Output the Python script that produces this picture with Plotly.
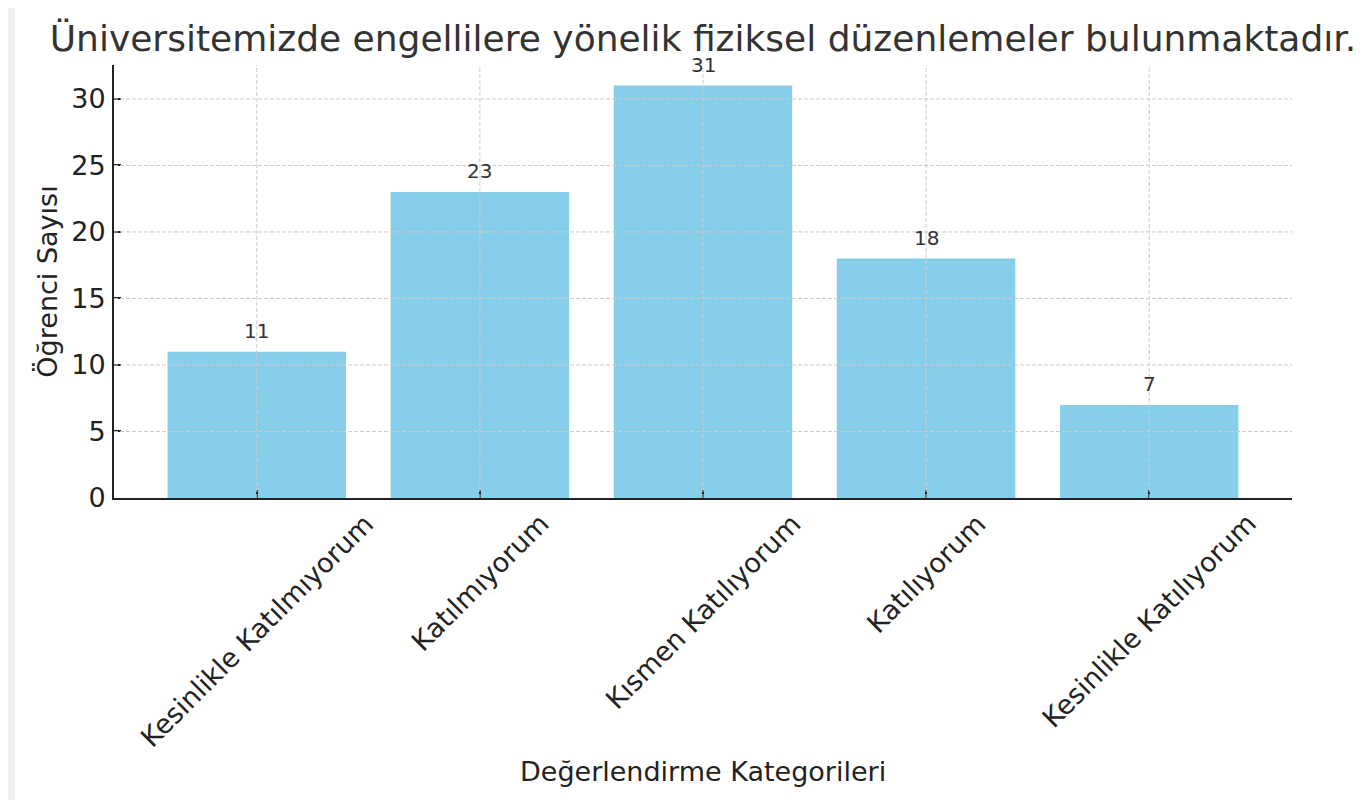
import plotly.graph_objects as go

categories = ["Kesinlikle Katılmıyorum", "Katılmıyorum", "Kısmen Katılıyorum",
              "Katılıyorum", "Kesinlikle Katılıyorum"]
counts = [11, 23, 31, 18, 7]
y_ticks = [0, 5, 10, 15, 20, 25, 30]

title_text = "Üniversitemizde engellilere yönelik fiziksel düzenlemeler bulunmaktadır."
x_title = "Değerlendirme Kategorileri"
y_title = "Öğrenci Sayısı"

FONT = "DejaVu Sans"
OFF = 8  # page body margin
W, H = 1366 - OFF, 800 - OFF
L, R, T, B = 114 - OFF, 74, 65 - OFF, 302
plot_w = W - L - R
plot_h = H - T - B

xs = list(range(len(categories)))
ymax = max(counts) * 1.05

fig = go.Figure()
fig.add_trace(go.Bar(x=xs, y=counts, width=0.8, marker=dict(color="#87CEEB", line=dict(width=0)),
                     hoverinfo="skip"))

shapes = []
# white figure area (a thin strip of grey page shows at the left)
shapes.append(dict(type="rect", xref="paper", yref="paper", layer="below",
                   x0=(15 - OFF - L) / plot_w, x1=(W - L) / plot_w,
                   y0=(T + plot_h - H) / plot_h, y1=(T + plot_h) / plot_h,
                   fillcolor="white", line=dict(width=0)))
grid_line = dict(color="#cccccc", width=1, dash="4px,2px")
for xv in xs:
    shapes.append(dict(type="line", xref="x", yref="paper", x0=xv, x1=xv, y0=0, y1=1,
                       line=grid_line, layer="above"))
for yv in y_ticks[1:]:
    shapes.append(dict(type="line", xref="paper", yref="y", x0=0, x1=1, y0=yv, y1=yv,
                       line=grid_line, layer="above"))

annotations = []
for xv, v in zip(xs, counts):
    annotations.append(dict(x=xv, y=v, xref="x", yref="y", text=str(v), showarrow=False,
                            yanchor="bottom", xanchor="center", yshift=7,
                            font=dict(family=FONT, size=20, color="#333333")))
for xv, c in zip(xs, categories):
    annotations.append(dict(x=xv, y=0, xref="x", yref="y", text=c, showarrow=False,
                            textangle=-45, xanchor="center", yanchor="top", yshift=-7,
                            font=dict(family=FONT, size=27, color="#222222")))
annotations.append(dict(x=0.5, y=(T + plot_h - (771 - OFF)) / plot_h, xref="paper", yref="paper",
                        text=x_title, showarrow=False, xanchor="center", yanchor="middle",
                        font=dict(family=FONT, size=27, color="#222222")))

fig.update_layout(
    width=W, height=H, autosize=False,
    margin=dict(l=L, r=R, t=T, b=B),
    paper_bgcolor="#f0f0f0", plot_bgcolor="rgba(0,0,0,0)",
    showlegend=False,
    title=dict(text=title_text, x=0.5, xref="paper", xanchor="center",
               y=1 - (38 - OFF) / H, yref="container", yanchor="middle",
               font=dict(family=FONT, size=36, color="#333333")),
    xaxis=dict(range=[-0.64, len(categories) - 1 + 0.64], showgrid=False, zeroline=False,
               showline=True, linecolor="#222222", linewidth=2,
               ticks="inside", ticklen=8, tickwidth=1.5, tickcolor="#222222",
               tickvals=xs, showticklabels=False),
    yaxis=dict(range=[0, ymax], showgrid=False, zeroline=False,
               showline=True, linecolor="#222222", linewidth=2,
               ticks="inside", ticklen=7, tickwidth=1.5, tickcolor="#222222",
               tickvals=y_ticks, ticklabelstandoff=1,
               tickfont=dict(family=FONT, size=27, color="#222222"),
               title=dict(text=y_title, standoff=6,
                          font=dict(family=FONT, size=27, color="#222222"))),
    shapes=shapes,
    annotations=annotations,
)

fig.write_html("out.html")
